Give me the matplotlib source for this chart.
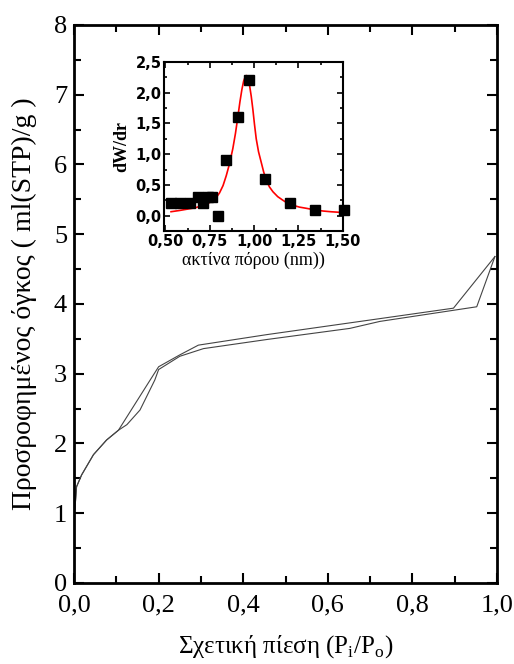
import numpy as np
import matplotlib
matplotlib.use("Agg")
import matplotlib.pyplot as plt

# ---- isotherm (main plot) ----
# branch 1: upper at high pressure
p_up = [0.002, 0.006, 0.018, 0.046, 0.077, 0.105, 0.18, 0.2, 0.25, 0.294,
        0.455, 0.723, 0.897, 0.995]
v_up = [1.05, 1.38, 1.55, 1.84, 2.05, 2.19, 2.91, 3.1, 3.27, 3.41,
        3.56, 3.79, 3.94, 4.68]
# branch 2: lower at high pressure
p_lo = [0.002, 0.006, 0.018, 0.046, 0.077, 0.105, 0.125, 0.156, 0.191, 0.2,
        0.25, 0.306, 0.455, 0.652, 0.723, 0.952, 0.995]
v_lo = [1.05, 1.38, 1.55, 1.84, 2.05, 2.19, 2.27, 2.48, 2.91, 3.06,
        3.25, 3.36, 3.49, 3.65, 3.75, 3.96, 4.68]

# ---- pore size distribution (inset) ----
r_pts = [0.532, 0.585, 0.636, 0.682, 0.71, 0.738, 0.764, 0.796, 0.843,
         0.909, 0.971, 1.059, 1.2, 1.342, 1.506]
dw_pts = [0.2, 0.2, 0.2, 0.3, 0.2, 0.3, 0.3, 0.0, 0.9,
          1.6, 2.2, 0.6, 0.2, 0.1, 0.1]
r_fit = [0.532, 0.58, 0.626, 0.67, 0.702, 0.735, 0.758, 0.785, 0.805, 0.825,
         0.843, 0.862, 0.88, 0.895, 0.909, 0.92, 0.931, 0.941, 0.95, 0.956,
         0.962, 0.968, 0.975, 0.984, 0.993, 1.002, 1.012, 1.025, 1.04, 1.054,
         1.069, 1.086, 1.106, 1.133, 1.163, 1.19, 1.219, 1.255, 1.295, 1.34,
         1.389, 1.435, 1.483]
dw_fit = [0.065, 0.085, 0.108, 0.13, 0.16, 0.195, 0.226, 0.29, 0.37, 0.49,
          0.65, 0.85, 1.09, 1.34, 1.62, 1.85, 2.05, 2.19, 2.26, 2.28,
          2.27, 2.22, 2.11, 1.94, 1.73, 1.49, 1.25, 1.04, 0.87, 0.71,
          0.58, 0.47, 0.39, 0.31, 0.25, 0.2, 0.17, 0.14, 0.12, 0.095,
          0.076, 0.064, 0.055]

x_ticks = [0.0, 0.2, 0.4, 0.6, 0.8, 1.0]
x_labels = ["0,0", "0,2", "0,4", "0,6", "0,8", "1,0"]
y_ticks = list(range(0, 9))
ins_xt = [0.5, 0.75, 1.0, 1.25, 1.5]
ins_xl = ["0,50", "0,75", "1,00", "1,25", "1,50"]
ins_yt = [0.0, 0.5, 1.0, 1.5, 2.0, 2.5]
ins_yl = ["0,0", "0,5", "1,0", "1,5", "2,0", "2,5"]

serif = "Liberation Serif"
sans = "DejaVu Sans"

fig = plt.figure(figsize=(5.14, 6.64), dpi=100)
ax = fig.add_axes([0.144, 0.122, 0.823, 0.8404])
ax.plot(p_up, v_up, color="#444", lw=0.8)
ax.plot(p_lo, v_lo, color="#444", lw=0.8)
ax.set_xlim(0, 1.0)
ax.set_ylim(0, 8)
ax.set_xticks(x_ticks)
ax.set_xticklabels(x_labels, fontfamily=serif, fontsize=19)
ax.set_xticks(np.arange(0.1, 1.0, 0.2), minor=True)
ax.set_yticks(y_ticks)
ax.set_yticklabels([str(t) for t in y_ticks], fontfamily=serif, fontsize=19)
ax.set_yticks(np.arange(0.5, 8, 1.0), minor=True)
ax.tick_params(which="both", direction="in", top=True, right=True, width=1.5)
ax.tick_params(which="major", length=7)
ax.tick_params(which="minor", length=5)
ax.tick_params(axis="x", which="major", pad=8)
ax.tick_params(axis="y", which="major", pad=5)
for s in ax.spines.values():
    s.set_linewidth(2)
ax.set_xlabel(r"Σχετική πίεση (P$_\mathregular{i}$/P$_\mathregular{o}$)",
              fontfamily=serif, fontsize=18, labelpad=12)
ax.set_ylabel("Προσροφημένος όγκος ( ml(STP)/g )", fontfamily=serif,
              fontsize=20, labelpad=12)

# inset
ins = fig.add_axes([0.32, 0.652, 0.347, 0.2546])
ins.plot(r_fit, dw_fit, color="red", lw=1.2, zorder=2)
ins.plot(r_pts, dw_pts, "s", color="black", ms=6.5, zorder=3, clip_on=False)
ins.set_xlim(0.495, 1.5)
ins.set_ylim(-0.25, 2.5)
ins.set_xticks(ins_xt)
ins.set_xticklabels(ins_xl, fontfamily=sans, fontweight="bold", fontsize=10.5)
ins.set_xticks(np.arange(0.625, 1.5, 0.25), minor=True)
ins.set_yticks(ins_yt)
ins.set_yticklabels(ins_yl, fontfamily=sans, fontweight="bold", fontsize=10.5)
ins.set_yticks(np.arange(0.25, 2.5, 0.5), minor=True)
ins.tick_params(which="both", direction="in", top=True, right=True, width=1.2)
ins.tick_params(which="major", length=4, pad=2)
ins.tick_params(which="minor", length=2.5)
for s in ins.spines.values():
    s.set_linewidth(1.5)
ins.set_xlabel("ακτίνα πόρου (nm))", fontfamily=serif, fontsize=13, labelpad=2)
ins.set_ylabel("dW/dr", fontfamily=serif, fontweight="bold", fontsize=13,
               labelpad=4)

fig.savefig("out.png", dpi=100)
